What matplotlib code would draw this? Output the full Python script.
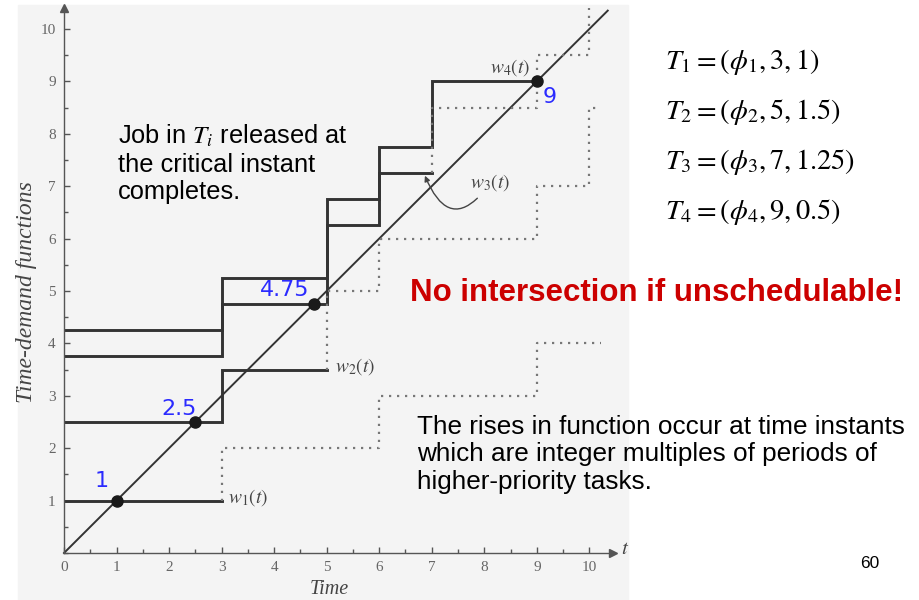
"""
Time-demand functions w_i(t) for four periodic tasks, with the
supply line y = t and the points where each job completes.
"""
import matplotlib.pyplot as plt
from matplotlib.patches import Rectangle
from matplotlib.ticker import MultipleLocator

plt.rcParams["mathtext.fontset"] = "stix"

# ── Data ──────────────────────────────────────────────────────────────────────
# solid part of each time-demand function (step, value holds until next t)
w1_t = [0, 3]
w1_v = [1, 1]
w2_t = [0, 3, 5]
w2_v = [2.5, 3.5, 3.5]
w3_t = [0, 3, 5, 6, 7]
w3_v = [3.75, 4.75, 6.25, 7.25, 7.25]
w4_t = [0, 3, 5, 6, 7, 9]
w4_v = [4.25, 5.25, 6.75, 7.75, 9, 9]

# dotted continuation past each task's period
w1_more_t = [3, 3, 6, 9, 10.22]
w1_more_v = [1, 2, 3, 4, 4]
w2_more_t = [5, 5, 6, 9, 10, 10.22]
w2_more_v = [3.5, 5, 6, 7, 8.5, 8.5]
w3_more_t = [7, 7, 9, 10, 10.22]
w3_more_v = [7.25, 8.5, 9.5, 11, 11]

# completion times (where w_i(t) meets t)
done_at = [1, 2.5, 4.75, 9]
done_lbl = ["1", "2.5", "4.75", "9"]

x_ticks = list(range(0, 11))
y_ticks = list(range(1, 11))

task_lines = [
    r"$T_1 = (\phi_1, 3, 1)$",
    r"$T_2 = (\phi_2, 5, 1.5)$",
    r"$T_3 = (\phi_3, 7, 1.25)$",
    r"$T_4 = (\phi_4, 9, 0.5)$",
]

# ── Figure ────────────────────────────────────────────────────────────────────
fig = plt.figure(figsize=(9.2, 6), dpi=100)
fig.patches.append(Rectangle((18 / 920, 0), 610 / 920, 595 / 600,
                             transform=fig.transFigure, color="#f4f4f4", zorder=-5))

ax = fig.add_axes([64 / 920, 47 / 600, 549 / 920, 545 / 600])
ax.set_facecolor("none")
ax.set_xlim(0, 10.45)
ax.set_ylim(0, 10.4)

for s in ["top", "right"]:
    ax.spines[s].set_visible(False)
for s in ["left", "bottom"]:
    ax.spines[s].set_color("#555555")
    ax.spines[s].set_linewidth(1.0)
ax.plot(1, 0, ">", color="#555555", ms=6, transform=ax.transAxes, clip_on=False)
ax.plot(0, 1, "^", color="#555555", ms=6, transform=ax.transAxes, clip_on=False)

ax.set_xticks(x_ticks)
ax.set_yticks(y_ticks)
ax.xaxis.set_minor_locator(MultipleLocator(0.5))
ax.yaxis.set_minor_locator(MultipleLocator(0.5))
ax.tick_params(which="both", direction="in", color="#555555", width=1.0)
ax.tick_params(which="major", length=4, labelsize=11, labelcolor="#666666", pad=6)
ax.tick_params(which="minor", length=3)
for lb in ax.get_xticklabels() + ax.get_yticklabels():
    lb.set_family("Liberation Serif")

ax.set_xlabel("Time", family="Liberation Serif", style="italic", fontsize=14.5,
              color="#444444")
ax.xaxis.set_label_coords(265 / 549, -27 / 545)
ax.set_ylabel("Time-demand functions", family="Liberation Serif", style="italic",
              fontsize=17, color="#444444")
ax.yaxis.set_label_coords(-27 / 549, 261 / 545)
ax.text(10.68, 0.1, r"$t$", fontsize=15, color="#444444", ha="center", va="center",
        clip_on=False)

# supply line y = t
ax.plot([0, 10.35], [0, 10.35], color="#333333", lw=1.4, clip_on=False)

solid = dict(where="post", color="#333333", lw=2.1, solid_joinstyle="miter")
ax.step(w1_t, w1_v, **solid)
ax.step(w2_t, w2_v, **solid)
ax.step(w3_t, w3_v, **solid)
ax.step(w4_t, w4_v, **solid)

dotted = dict(where="post", color="#777777", lw=1.6, linestyle=(0, (1, 2.6)))
ax.step(w1_more_t, w1_more_v, **dotted)
ax.step(w2_more_t, w2_more_v, **dotted)
ax.step(w3_more_t, w3_more_v, **dotted)

ax.plot(done_at, done_at, "o", color="#1a1a1a", ms=8, zorder=5)
lbl_off = [(-11, 14), (-12, 9), (-21, 10), (9, -11)]
for v, s, off in zip(done_at, done_lbl, lbl_off):
    ax.annotate(s, (v, v), xytext=off, textcoords="offset points", color="#2b2bff",
                fontsize=16, ha="center", va="center")

wstyle = dict(fontsize=14, color="#444444", va="center")
ax.text(3.12, 1.05, r"$w_1(t)$", ha="left", **wstyle)
ax.text(5.16, 3.55, r"$w_2(t)$", ha="left", **wstyle)
ax.text(8.87, 9.27, r"$w_4(t)$", ha="right", **wstyle)
ax.annotate(r"$w_3(t)$", xy=(6.87, 7.2), xytext=(7.73, 7.06), ha="left", **wstyle,
            arrowprops=dict(arrowstyle="-|>", color="#444444", lw=1.0,
                            mutation_scale=8, shrinkA=2, shrinkB=0,
                            connectionstyle="arc3,rad=-0.9"))

# ── Slide text ────────────────────────────────────────────────────────────────
sans = "Liberation Sans"
fig.text(118 / 920, 1 - 123 / 600,
         "Job in $T_i$ released at\nthe critical instant\ncompletes.",
         family=sans, fontsize=18.3, va="top", ha="left", linespacing=1.17)
fig.text(657 / 920, 1 - 293 / 600, "No intersection if unschedulable!",
         family=sans, fontsize=22.5, weight="bold", color="#cc0000",
         ha="center", va="center")
fig.text(417 / 920, 1 - 415 / 600,
         "The rises in function occur at time instants\n"
         "which are integer multiples of periods of\n"
         "higher-priority tasks.",
         family=sans, fontsize=18.8, va="top", ha="left", linespacing=1.18)
for i, s in enumerate(task_lines):
    fig.text(665 / 920, 1 - (62 + 50 * i) / 600, s, fontsize=20.5, ha="left", va="center")
fig.text(870 / 920, 1 - 564 / 600, "60", family=sans, fontsize=12.5,
         ha="center", va="center")

fig.savefig("out.png", dpi=100)
